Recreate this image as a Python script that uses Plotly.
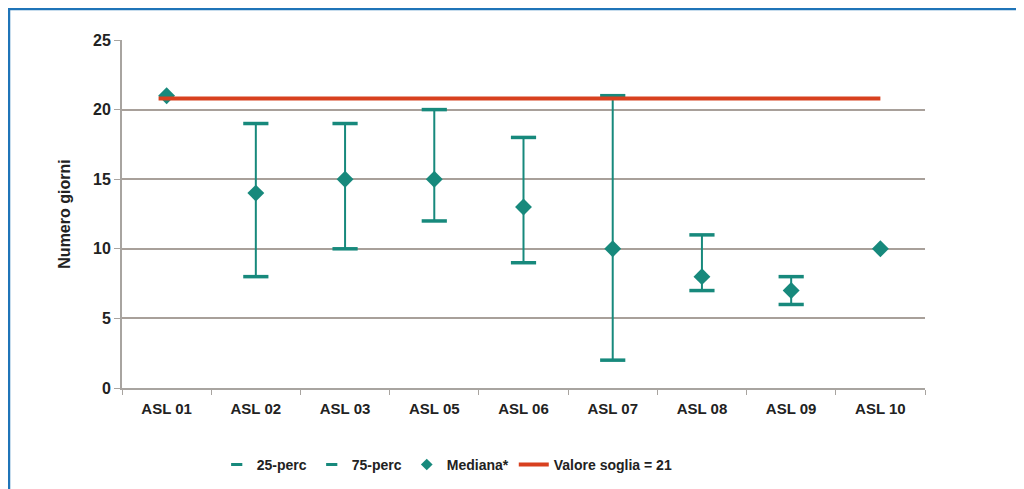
import plotly.graph_objects as go

categories = ["ASL 01", "ASL 02", "ASL 03", "ASL 05", "ASL 06", "ASL 07", "ASL 08", "ASL 09", "ASL 10"]
perc25 = [None, 8, 10, 12, 9, 2, 7, 6, None]
perc75 = [None, 19, 19, 20, 18, 21, 11, 8, None]
mediana = [21, 14, 15, 15, 13, 10, 8, 7, 10]
soglia_x = [-0.09, 8.0]   # position along the category axis (index units)
soglia_y = [20.8, 20.8]
y_ticks = [0, 5, 10, 15, 20, 25]

TEAL = "#17897c"
RED = "#d8401f"
FONT = "Liberation Sans, Arial, sans-serif"

xpos = list(range(len(categories)))
bounds = [i - 0.5 for i in range(len(categories) + 1)]

vx, vy = [], []
for i, a, b in zip(xpos, perc25, perc75):
    if a is not None and b is not None:
        vx += [i, i, None]
        vy += [a, b, None]

fig = go.Figure()
fig.add_trace(go.Scatter(x=vx, y=vy, mode="lines", line=dict(color=TEAL, width=2),
                         showlegend=False, hoverinfo="skip"))
fig.add_trace(go.Scatter(x=xpos, y=perc25, mode="markers", name="25-perc", showlegend=False,
                         marker=dict(symbol="line-ew", size=18, line=dict(color=TEAL, width=3.5))))
fig.add_trace(go.Scatter(x=xpos, y=perc75, mode="markers", name="75-perc", showlegend=False,
                         marker=dict(symbol="line-ew", size=18, line=dict(color=TEAL, width=3.5))))
fig.add_trace(go.Scatter(x=xpos, y=mediana, mode="markers", name="Mediana*", showlegend=False,
                         marker=dict(symbol="diamond", size=13, color=TEAL)))
fig.add_trace(go.Scatter(x=soglia_x, y=soglia_y, mode="lines", name="Valore soglia = 21",
                         showlegend=False, line=dict(color=RED, width=4)))

# legend entries (small symbols like the reference)
fig.add_trace(go.Scatter(x=[None], y=[None], mode="markers", name="25-perc",
                         marker=dict(symbol="line-ew", size=8, line=dict(color=TEAL, width=3))))
fig.add_trace(go.Scatter(x=[None], y=[None], mode="markers", name="75-perc",
                         marker=dict(symbol="line-ew", size=8, line=dict(color=TEAL, width=3))))
fig.add_trace(go.Scatter(x=[None], y=[None], mode="markers", name="Mediana*",
                         marker=dict(symbol="diamond", size=9, color=TEAL)))
fig.add_trace(go.Scatter(x=[None], y=[None], mode="lines", name="Valore soglia = 21",
                         line=dict(color=RED, width=4)))

L, T, W, H = 114, 32, 803, 348
fig.update_layout(
    width=1024, height=489,
    margin=dict(l=L, r=1024 - L - W, t=T, b=489 - T - H),
    paper_bgcolor="white", plot_bgcolor="white",
    font=dict(family=FONT, size=13, color="#222222"),
    legend=dict(orientation="h", x=0.405, xanchor="center", y=-0.175, yanchor="top",
                font=dict(family=FONT, size=14, color="#222222", weight="bold"),
                itemwidth=30, tracegroupgap=0),
    showlegend=True,
)
fig.update_xaxes(
    range=[-0.5, len(categories) - 0.5], tickvals=xpos, ticktext=categories,
    showgrid=False, showline=True, linecolor="#a8a4a0", linewidth=2, zeroline=False,
    ticks="", ticklabelstandoff=6,
    minor=dict(tickvals=bounds, ticks="outside", ticklen=5, tickcolor="#a8a4a0", showgrid=False),
    tickfont=dict(family=FONT, size=15, color="#222222", weight="bold"),
    fixedrange=True,
)
fig.update_yaxes(
    range=[0, 25], tickvals=y_ticks, showgrid=True, gridcolor="#a8a09a", gridwidth=1.5,
    showline=True, linecolor="#a8a4a0", linewidth=2, zeroline=False,
    ticks="outside", ticklen=6, tickcolor="#a8a4a0",
    tickfont=dict(family=FONT, size=16, color="#222222", weight="bold"),
    title=dict(text="Numero giorni", font=dict(family=FONT, size=16, color="#222222", weight="bold"),
               standoff=18),
)

fig.add_shape(type="rect", xref="paper", yref="paper",
              x0=(1 - L) / W, x1=1.2, y0=-0.5, y1=1 + (T - 1) / H,
              line=dict(color="#1f74b8", width=2.5), fillcolor="rgba(0,0,0,0)", layer="below")

fig.write_html("out.html")
